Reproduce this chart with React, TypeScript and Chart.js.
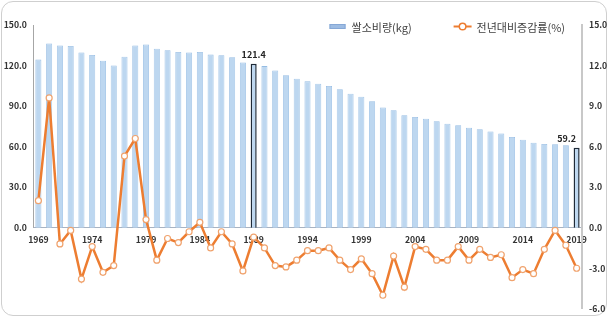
import React, { useEffect, useRef } from 'react';
import { Chart, registerables } from 'chart.js';

Chart.register(...registerables);

const years = [
  '1969', '1970', '1971', '1972', '1973', '1974', '1975', '1976', '1977', '1978',
  '1979', '1980', '1981', '1982', '1983', '1984', '1985', '1986', '1987', '1988',
  '1989', '1990', '1991', '1992', '1993', '1994', '1995', '1996', '1997', '1998',
  '1999', '2000', '2001', '2002', '2003', '2004', '2005', '2006', '2007', '2008',
  '2009', '2010', '2011', '2012', '2013', '2014', '2015', '2016', '2017', '2018',
  '2019',
];

const riceKg = [
  124.4, 136.4, 134.8, 134.5, 129.6, 127.8, 123.6, 120.1, 126.5, 134.8,
  135.6, 132.4, 131.4, 130.0, 129.6, 130.1, 128.1, 127.7, 126.2, 122.2,
  121.4, 119.6, 116.3, 112.9, 110.2, 108.3, 106.5, 104.9, 102.4, 99.2,
  96.9, 93.6, 88.9, 87.0, 83.2, 82.0, 80.7, 78.8, 76.9, 75.8,
  74.0, 72.8, 71.2, 69.8, 67.2, 65.1, 62.9, 61.9, 61.8, 61.0,
  59.2,
];

const changePct = [
  2.0, 9.6, -1.2, -0.2, -3.8, -1.4, -3.3, -2.8, 5.3, 6.6,
  0.6, -2.4, -0.8, -1.1, -0.3, 0.4, -1.5, -0.3, -1.2, -3.2,
  -0.7, -1.5, -2.8, -2.9, -2.4, -1.7, -1.7, -1.5, -2.4, -3.1,
  -2.3, -3.4, -5.0, -2.1, -4.4, -1.4, -1.6, -2.4, -2.4, -1.4,
  -2.4, -1.6, -2.2, -2.0, -3.7, -3.1, -3.4, -1.6, -0.2, -1.3,
  -3.0,
];

const tickYears = ['1969', '1974', '1979', '1984', '1989', '1994', '1999', '2004', '2009', '2014', '2019'];
const highlightYears = ['1989', '2019'];

const seriesNames = ['쌀소비량(kg)', '전년대비증감률(%)'];

const FONT = "'Noto Sans CJK KR', 'Noto Sans', sans-serif";
const BAR_FILL = '#BDD7F0';
const BAR_EDGE = '#95BCE3';
const HIGHLIGHT_EDGE = '#1E2A38';
const LINE_COLOR = '#ED7D31';
const TEXT_COLOR = '#333333';
const TICK_SIZE = 8.7;

const leftAxisLine = {
  id: 'leftAxisLine',
  afterDraw(chart: any) {
    const s = chart.scales.yL;
    const { ctx, chartArea } = chart;
    ctx.save();
    ctx.strokeStyle = '#A6A6A6';
    ctx.lineWidth = 1;
    ctx.beginPath();
    const x = Math.round(chartArea.left) + 0.5;
    ctx.moveTo(x, s.getPixelForValue(s.max));
    ctx.lineTo(x, s.getPixelForValue(0));
    ctx.stroke();
    ctx.restore();
  },
};

const barLabels = {
  id: 'barLabels',
  afterDatasetsDraw(chart: any) {
    const { ctx, chartArea } = chart;
    const meta = chart.getDatasetMeta(0);
    ctx.save();
    ctx.font = `bold 9px ${FONT}`;
    ctx.fillStyle = '#262626';
    ctx.textAlign = 'center';
    ctx.textBaseline = 'middle';
    highlightYears.forEach((yr) => {
      const i = years.indexOf(yr);
      const el = meta.data[i];
      const txt = riceKg[i].toFixed(1);
      const w = ctx.measureText(txt).width;
      let x = el.x;
      if (x + w / 2 > chartArea.right - 6) x = chartArea.right - 6 - w / 2;
      ctx.fillText(txt, x, el.y - 9.5);
    });
    ctx.restore();
  },
};

const customLegend = {
  id: 'customLegend',
  afterDraw(chart: any) {
    const { ctx, chartArea } = chart;
    const ds = chart.data.datasets;
    ctx.save();
    ctx.font = `11px ${FONT}`;
    ctx.textBaseline = 'middle';
    ctx.textAlign = 'left';
    const ty = chartArea.top + 2.5;
    const t1 = ds[0].label;
    const t2 = ds[1].label;
    const w1 = ctx.measureText(t1).width;
    const w2 = ctx.measureText(t2).width;
    const t2x = chartArea.right - 17 - w2;
    const m2x = t2x - 23;
    const t1x = m2x - 42 - w1;
    const s1x = t1x - 22;
    ctx.fillStyle = '#9DBCE3';
    ctx.fillRect(s1x, ty - 3.5, 16, 5);
    ctx.strokeStyle = '#86A8D6';
    ctx.lineWidth = 1;
    ctx.strokeRect(s1x + 0.5, ty - 3.5 + 0.5, 15, 4);
    ctx.fillStyle = '#404040';
    ctx.fillText(t1, t1x, ty);
    ctx.strokeStyle = LINE_COLOR;
    ctx.lineWidth = 2;
    ctx.beginPath();
    ctx.moveTo(m2x, ty - 1);
    ctx.lineTo(m2x + 18, ty - 1);
    ctx.stroke();
    ctx.beginPath();
    ctx.arc(m2x + 9, ty - 1, 3.3, 0, Math.PI * 2);
    ctx.fillStyle = '#FFFFFF';
    ctx.fill();
    ctx.lineWidth = 1.5;
    ctx.stroke();
    ctx.fillStyle = '#404040';
    ctx.fillText(t2, t2x, ty);
    ctx.restore();
  },
};

export default function App() {
  const ref = useRef<HTMLCanvasElement>(null);

  useEffect(() => {
    if (!ref.current) return;
    Chart.defaults.font.family = FONT;
    const chart = new Chart(ref.current, {
      data: {
        labels: years,
        datasets: [
          {
            type: 'bar',
            label: seriesNames[0],
            data: riceKg,
            yAxisID: 'yL',
            order: 1,
            backgroundColor: BAR_FILL,
            borderColor: years.map((y) => (highlightYears.includes(y) ? HIGHLIGHT_EDGE : BAR_EDGE)),
            borderWidth: years.map((y) => (highlightYears.includes(y) ? 1.5 : 0.8)),
            barPercentage: 0.56,
            categoryPercentage: 1,
          },
          {
            type: 'line',
            label: seriesNames[1],
            data: changePct,
            yAxisID: 'yR',
            order: 0,
            borderColor: LINE_COLOR,
            borderWidth: 2.5,
            pointRadius: 3,
            pointBackgroundColor: '#FFFFFF',
            pointBorderColor: '#F0A36E',
            pointBorderWidth: 1.2,
            tension: 0,
          },
        ],
      } as any,
      options: {
        animation: false,
        responsive: true,
        maintainAspectRatio: false,
        layout: { padding: { top: 25, left: 0, right: 0, bottom: -1 } },
        plugins: {
          legend: { display: false },
          tooltip: { enabled: false },
        },
        scales: {
          x: {
            type: 'category',
            position: { yL: 0 } as any,
            offset: true,
            grid: { display: false, drawTicks: false },
            border: { display: true, color: '#A9B3C1', width: 1 },
            ticks: {
              autoSkip: false,
              maxRotation: 0,
              padding: 7.5,
              color: TEXT_COLOR,
              font: { size: TICK_SIZE, weight: 'bold', lineHeight: 1 },
              callback: (_v: any, i: number) => (tickYears.includes(years[i]) ? years[i] : ''),
            },
          },
          yL: {
            type: 'linear',
            position: 'left',
            min: -60,
            max: 150,
            grid: { display: false, drawTicks: false },
            border: { display: false },
            afterFit: (s: any) => { s.width = 33; },
            ticks: {
              stepSize: 30,
              padding: 6,
              color: TEXT_COLOR,
              font: { size: TICK_SIZE, weight: 'bold' },
              callback: (v: any) => (v >= 0 ? Number(v).toFixed(1) : ''),
            },
          },
          yR: {
            type: 'linear',
            position: 'right',
            min: -6,
            max: 15,
            grid: { display: false, drawTicks: false },
            border: { display: true, color: '#C8C8C8', width: 2 },
            afterFit: (s: any) => { s.width = 27; },
            ticks: {
              stepSize: 3,
              padding: 7,
              color: TEXT_COLOR,
              font: { size: TICK_SIZE, weight: 'bold' },
              callback: (v: any) => Number(v).toFixed(1),
            },
          },
        },
      } as any,
      plugins: [leftAxisLine, barLabels, customLegend],
    });
    return () => chart.destroy();
  }, []);

  return (
    <div style={{ position: 'fixed', left: 0, top: 0, width: 609, height: 321, background: '#FFFFFF' }}>
      <div
        style={{
          position: 'absolute',
          left: 1,
          top: 1,
          width: 606,
          height: 315,
          boxSizing: 'border-box',
          border: '1.5px solid #CFCFCF',
          borderRadius: 12,
        }}
      />
      <div style={{ position: 'absolute', left: 0, top: 0, width: 609, height: 321 }}>
        <canvas ref={ref} />
      </div>
    </div>
  );
}
